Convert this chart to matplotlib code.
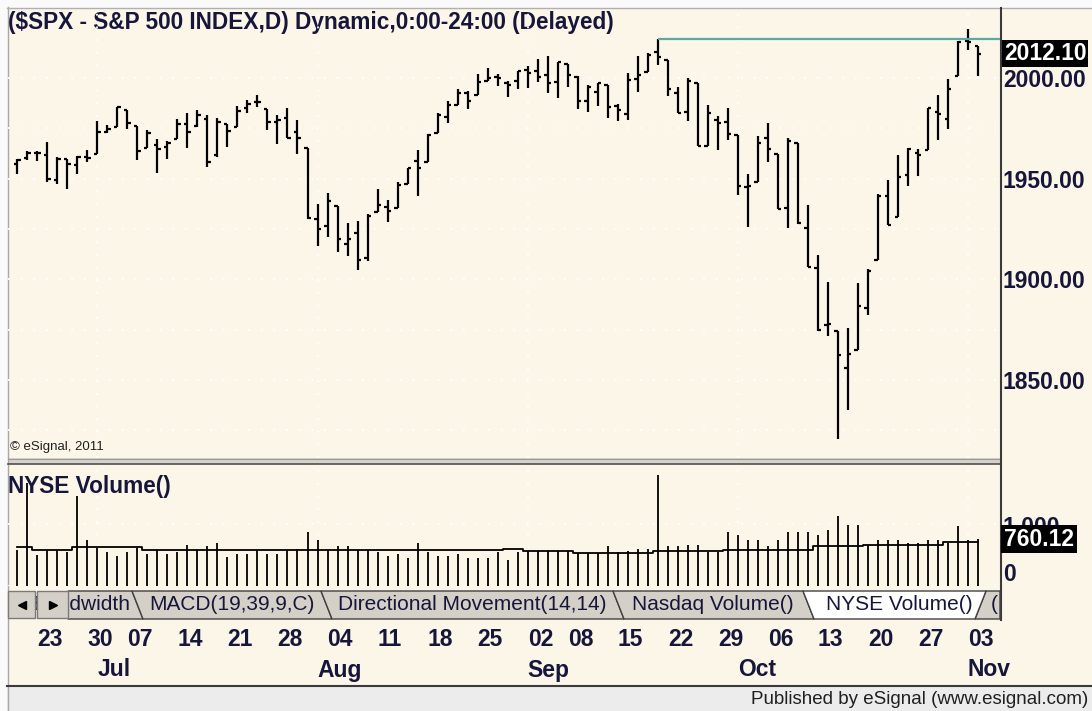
import numpy as np
import pandas as pd
import matplotlib
matplotlib.use("Agg")
import matplotlib.pyplot as plt
from matplotlib.patches import Rectangle, Polygon
from matplotlib.transforms import blended_transform_factory

plt.rcParams['font.family'] = ['Liberation Sans', 'DejaVu Sans']

# trading days on the chart (Jun 19 - Nov 04 2014)
dates = pd.bdate_range('2014-06-19', '2014-11-04')
dates = dates.drop(pd.to_datetime(['2014-07-04', '2014-09-01']))

opens = [1957.50, 1960.45, 1962.92, 1961.97, 1949.27, 1959.89, 1956.56, 1960.79,
         1962.29, 1973.06, 1975.88, 1984.22, 1976.39, 1965.10, 1966.67, 1965.76, 1969.86, 1977.36, 1976.35,
         1979.75, 1961.54, 1976.93, 1975.65, 1985.32, 1988.07, 1984.60, 1978.25, 1980.03, 1973.21, 1965.14,
         1929.80, 1926.62, 1936.34, 1917.29, 1923.03, 1910.35, 1933.43, 1935.73, 1935.60, 1947.41, 1958.87,
         1958.36, 1972.73, 1980.46, 1986.82, 1992.60, 1991.74, 1998.59, 2000.54, 1997.42, 1998.45,
         2004.07, 2003.57, 2001.67, 1998.00, 2007.17, 2000.73, 1988.41, 1992.85, 1996.74, 1986.04, 1981.93,
         1999.30, 2003.07, 2012.74, 2009.08, 1992.78, 1983.34, 1997.32, 1966.22, 1978.96, 1978.21,
         1971.44, 1945.83, 1948.12, 1970.01, 1962.36, 1935.55, 1967.68, 1925.63, 1905.65, 1877.11, 1874.18,
         1855.95, 1864.91, 1885.62, 1909.38, 1941.29, 1931.02, 1951.59, 1962.97, 1964.14, 1983.29, 1979.49,
         2001.20, 2018.21, 2015.81]
highs = [1959.87, 1963.91, 1963.74, 1968.17, 1960.83, 1959.89, 1961.47, 1964.24,
         1978.58, 1976.67, 1985.59, 1984.22, 1976.39, 1974.15, 1969.84, 1968.67, 1979.85, 1982.52, 1983.94,
         1981.80, 1979.91, 1976.93, 1986.24, 1989.23, 1991.39, 1984.60, 1981.52, 1984.85, 1978.90, 1965.14,
         1937.35, 1942.92, 1936.34, 1927.91, 1928.89, 1932.38, 1944.90, 1939.20, 1948.41, 1955.23, 1964.04,
         1971.99, 1982.57, 1988.57, 1994.76, 1993.54, 2001.95, 2005.04, 2002.14, 1998.55, 2003.38,
         2006.12, 2009.28, 2011.17, 2007.71, 2007.17, 2001.01, 1996.66, 1997.65, 1996.74, 1987.18, 2002.28,
         2010.74, 2012.34, 2019.26, 2009.08, 1995.41, 1999.79, 1997.32, 1986.37, 1981.28, 1985.17,
         1971.44, 1952.32, 1971.19, 1977.84, 1962.36, 1970.36, 1967.68, 1936.98, 1912.09, 1898.71, 1874.18,
         1876.01, 1898.16, 1905.03, 1942.45, 1949.31, 1961.95, 1965.27, 1964.64, 1985.05, 1991.40, 1999.40,
         2018.19, 2024.46, 2015.98]
lows = [1952.26, 1959.17, 1958.89, 1948.34, 1947.49, 1944.69, 1952.18, 1958.22,
        1962.29, 1972.58, 1975.88, 1974.88, 1959.46, 1965.10, 1952.86, 1959.63, 1969.86, 1965.34, 1975.67,
        1955.59, 1960.82, 1965.77, 1975.65, 1982.44, 1985.79, 1974.37, 1967.31, 1969.95, 1962.42, 1930.04,
        1916.37, 1921.20, 1913.77, 1911.45, 1904.78, 1909.01, 1933.43, 1928.29, 1935.60, 1947.41, 1941.50,
        1958.36, 1972.73, 1977.68, 1986.82, 1984.76, 1991.74, 1998.59, 1996.20, 1990.52, 1994.65,
        1994.85, 1998.14, 1992.44, 1990.10, 1995.60, 1984.61, 1982.99, 1985.93, 1980.26, 1978.48, 1979.06,
        1993.29, 2003.07, 2006.59, 1991.01, 1982.77, 1978.63, 1965.99, 1966.22, 1964.04, 1968.96,
        1941.72, 1926.03, 1948.12, 1958.43, 1935.10, 1925.25, 1927.56, 1906.05, 1874.14, 1871.79, 1820.66,
        1835.02, 1864.91, 1882.30, 1909.38, 1926.83, 1931.02, 1946.27, 1951.37, 1964.14, 1969.04, 1974.75,
        2001.20, 2013.68, 2001.01]
closes = [1959.48, 1962.87, 1962.61, 1949.98, 1959.53, 1957.22, 1960.96, 1960.23,
          1973.32, 1974.62, 1985.44, 1977.65, 1963.71, 1972.83, 1964.68, 1967.57, 1977.10, 1973.28, 1981.57,
          1958.12, 1978.22, 1973.63, 1983.53, 1987.01, 1987.98, 1978.34, 1978.91, 1969.95, 1970.07, 1930.67,
          1925.15, 1938.99, 1920.21, 1920.24, 1909.57, 1931.59, 1936.92, 1933.75, 1946.72, 1955.18, 1955.06,
          1971.74, 1981.60, 1986.51, 1992.37, 1988.40, 1997.92, 2000.02, 2000.12, 1996.74, 2003.37,
          2002.28, 2000.72, 1997.65, 2007.71, 2001.54, 1988.44, 1995.69, 1997.45, 1985.54, 1984.13, 1998.98,
          2001.57, 2011.36, 2010.40, 1994.29, 1982.77, 1998.30, 1965.99, 1982.85, 1977.80, 1972.29,
          1946.16, 1946.17, 1967.90, 1964.82, 1935.10, 1968.89, 1928.21, 1906.13, 1874.74, 1877.70, 1862.49,
          1862.76, 1886.76, 1904.01, 1941.28, 1927.11, 1950.82, 1964.58, 1961.63, 1985.05, 1982.30, 1994.65,
          2018.05, 2017.81, 2012.10]

# NYSE volume (millions) and its average line
volume = [577, 1670, 507, 577, 577, 545, 1451, 739, 615, 545, 480, 545, 615, 523, 577, 523, 545, 669,
          588, 642, 696, 469, 523, 523, 577, 523, 523, 577, 599, 868, 739, 577, 642, 642, 577, 577, 545,
          480, 523, 453, 696, 545, 480, 480, 523, 453, 453, 453, 545,
          415, 545, 561, 561, 561, 561, 561, 534, 534, 534, 642, 545, 561, 599, 599, 1801, 642, 642, 669,
          669, 545, 545, 868, 820, 739, 739, 642, 739, 868, 868, 868, 831, 901, 1127, 992, 992, 669, 739,
          739, 739, 696, 696, 739, 739, 696, 965, 739, 760.12]
volume_avg = [631, 631, 577, 577, 577, 577, 631, 631, 631, 631, 631, 631, 631, 577, 577, 577, 577, 577,
              577, 577, 577, 577, 577, 577, 577, 577, 577, 577, 577, 577, 577, 577, 577, 577, 577, 577, 577,
              577, 577, 577, 577, 577, 577, 577, 577, 577, 577, 577, 577,
              599, 599, 561, 561, 561, 561, 561, 534, 534, 534, 534, 534, 534, 534, 534, 561, 561, 561, 561,
              561, 561, 561, 588, 588, 588, 588, 588, 588, 588, 588, 588, 650, 650, 650, 650, 650, 669, 669,
              669, 669, 669, 669, 669, 669, 712, 712, 712, 712]

title = '($SPX - S&P 500 INDEX,D) Dynamic,0:00-24:00 (Delayed)'
price_ticks = [1850, 1900, 1950, 2000]
price_grid = [1825, 1850, 1875, 1900, 1925, 1950, 1975, 2000]
vol_ticks = [0, 1000]
tabs = ['Bandwidth', 'MACD(19,39,9,C)', 'Directional Movement(14,14)', 'Nasdaq Volume()', 'NYSE Volume()']
line_date = '2014-09-19'

# ---- layout (pixels) ----
W, H = 1092, 711
cream = '#FCF6E9'
ink = '#16163A'
first_px, step_px = 17.3, 10.007
xlim = ((8 - first_px) / step_px, (1000 - first_px) / step_px)


def box(x0, y0, x1, y1):
    return [x0 / W, 1 - y1 / H, (x1 - x0) / W, (y1 - y0) / H]


fig = plt.figure(figsize=(W / 100, H / 100), dpi=100)
bg = fig.add_axes([0, 0, 1, 1], zorder=0)
bg.set_xlim(0, W)
bg.set_ylim(H, 0)
bg.axis('off')

bg.add_patch(Rectangle((0, 0), W, H, fc='#FAFAFA', ec='none'))
bg.add_patch(Rectangle((8, 8), W - 8, 679, fc=cream, ec='none'))
bg.add_patch(Rectangle((7, 687), W - 7, 24, fc='#ECECEC', ec='none'))
bg.plot([7.5, 7.5], [7, H], color='#A8A8A8', lw=1)
bg.plot([7, W], [7.5, 7.5], color='#B0B0B0', lw=1)
bg.plot([7, W], [686, 686], color='#3A3A3A', lw=1.5)
# panel separator
bg.add_patch(Rectangle((8, 458), 992, 6, fc='#D6D2CA', ec='none'))
bg.plot([8, 1000], [458.5, 458.5], color='#9A9A9A', lw=0.8)
bg.plot([8, 1000], [463.5, 463.5], color='#505050', lw=1.2)
bg.plot([1000.5, 1000.5], [8, 620], color='#3A3A3A', lw=1.5)

x = np.arange(len(dates))
month_idx = [i for i in range(1, len(dates)) if dates[i].month != dates[i - 1].month]
week_idx = [i for i in range(1, len(dates)) if dates[i].weekday() < dates[i - 1].weekday()]

# ---- price panel ----
ax = fig.add_axes(box(8, 8, 1000, 458), zorder=2)
ax.set_facecolor('none')
for s in ax.spines.values():
    s.set_visible(False)
ax.set_xlim(*xlim)
ax.set_ylim(2000 - (458 - 78) / 2.013, 2000 + (78 - 8) / 2.013)
ax.set_xticks(month_idx)
ax.set_yticks(price_grid, minor=True)
ax.set_yticks(price_ticks)
ax.set_yticklabels([f'{v:.2f}' for v in price_ticks], fontweight='bold')
ax.yaxis.tick_right()
ax.tick_params(axis='y', which='both', length=0, pad=2, labelsize=16.5, labelcolor=ink)
ax.tick_params(axis='x', length=0, labelbottom=False)
ax.grid(True, which='both', color='white', ls=(0, (1, 6)), lw=1.3, zorder=0)

ax.vlines(x, lows, highs, color='black', lw=1.6)
ax.hlines(opens, x - 0.34, x, color='black', lw=1.6)
ax.hlines(closes, x, x + 0.34, color='black', lw=1.6)

li = list(dates.strftime('%Y-%m-%d')).index(line_date)
ax.hlines(highs[li], li, xlim[1], color='#5CA9A1', lw=1.6, zorder=3)

tr = blended_transform_factory(ax.transAxes, ax.transData)
ax.text(1.004, closes[-1], f'{closes[-1]:.2f}', transform=tr, ha='left', va='center',
        color='white', fontsize=16.5, fontweight='bold', clip_on=False, zorder=5,
        bbox=dict(boxstyle='square,pad=0.08', fc='black', ec='none'))

bg.text(8, 22, title, fontsize=16.3, fontweight='bold', color=ink, va='center', ha='left')
bg.text(10, 447, '\u00a9 eSignal, 2011', fontsize=9.5, color='#202020', va='center')

# ---- volume panel ----
vax = fig.add_axes(box(8, 464, 1000, 586), zorder=2)
vax.set_facecolor('none')
for s in vax.spines.values():
    s.set_visible(False)
vax.set_xlim(*xlim)
vax.set_ylim(0, 122 / 0.0618)
vax.set_xticks(month_idx)
vax.set_yticks(vol_ticks)
vax.set_yticklabels(['0', '1,000'], fontweight='bold')
vax.yaxis.tick_right()
vax.tick_params(axis='y', length=0, pad=2, labelsize=16.5, labelcolor=ink)
vax.get_yticklabels()[0].set_va('bottom')
vax.tick_params(axis='x', length=0, labelbottom=False)
vax.grid(True, color='white', ls=(0, (1, 6)), lw=1.3, zorder=0)

vax.vlines(x, 0, volume, color='black', lw=1.3)
vax.plot(x, volume_avg, drawstyle='steps-mid', color='black', lw=1.3)

vtr = blended_transform_factory(vax.transAxes, vax.transData)
vax.text(1.004, volume[-1], f'{volume[-1]:.2f}', transform=vtr, ha='left', va='center',
         color='white', fontsize=16.5, fontweight='bold', clip_on=False, zorder=5,
         bbox=dict(boxstyle='square,pad=0.12', fc='black', ec='none'))
bg.text(8, 486, 'NYSE Volume()', fontsize=16.3, fontweight='bold', color=ink, va='center')

# ---- tab strip ----
edges = [68, 132, 321, 613, 803, 986]
bg.add_patch(Polygon([(986, 591), (975, 619), (1000, 619), (1000, 591)], closed=True,
                     fc='#D4D0C8', ec='#404040', lw=1, zorder=3))
bg.text(991, 605, '(', fontsize=15, color=ink, va='center', zorder=4)
for k, name in enumerate(tabs):
    a, b = edges[k], edges[k + 1]
    if k == len(tabs) - 1:
        pts = [(a, 591), (a + 11, 619), (b - 11, 619), (b, 591)]
        poly = Polygon(pts, closed=True, fc='white', ec='#404040', lw=1, zorder=3.5)
    elif k == 0:
        pts = [(a, 591), (a, 619), (b + 11, 619), (b, 591)]
        poly = Polygon(pts, closed=True, fc='#D4D0C8', ec='#404040', lw=1, zorder=3)
    else:
        pts = [(a, 591), (a + 11, 619), (b + 11, 619), (b, 591)]
        poly = Polygon(pts, closed=True, fc='#D4D0C8', ec='#404040', lw=1, zorder=3)
    bg.add_patch(poly)
    if k == 0:
        t = bg.text(b - 2, 605, name, fontsize=15, color=ink, va='center', ha='right', zorder=4)
        t.set_clip_path(poly)
        t.set_clip_on(True)
    else:
        bg.text((a + b) / 2 + 5, 605, name, fontsize=15, color=ink, va='center', ha='center', zorder=4)

for bx, bw, mk in [(8, 27, '<'), (37, 31, '>')]:
    bg.add_patch(Rectangle((bx, 591), bw, 27, fc='#D4D0C8', ec='#7A7A7A', lw=1, zorder=5))
    bg.plot(bx + bw / 2, 604.5, marker=mk, ms=6, color='black', zorder=6)

# ---- date axis ----
dtr = blended_transform_factory(ax.transData, bg.transData)
for i in week_idx:
    bg.text(i, 639, dates[i].strftime('%d'), transform=dtr, fontsize=16.5, fontweight='bold',
            color=ink, ha='left', va='center', clip_on=False)
for i in month_idx:
    bg.text(i, 670, dates[i].strftime('%b'), transform=dtr, fontsize=16.5, fontweight='bold',
            color=ink, ha='left', va='center', clip_on=False)

bg.text(1088, 699, 'Published by eSignal (www.esignal.com)', fontsize=13.5, color='#202020',
        ha='right', va='center')

fig.savefig('out.png', dpi=100)
